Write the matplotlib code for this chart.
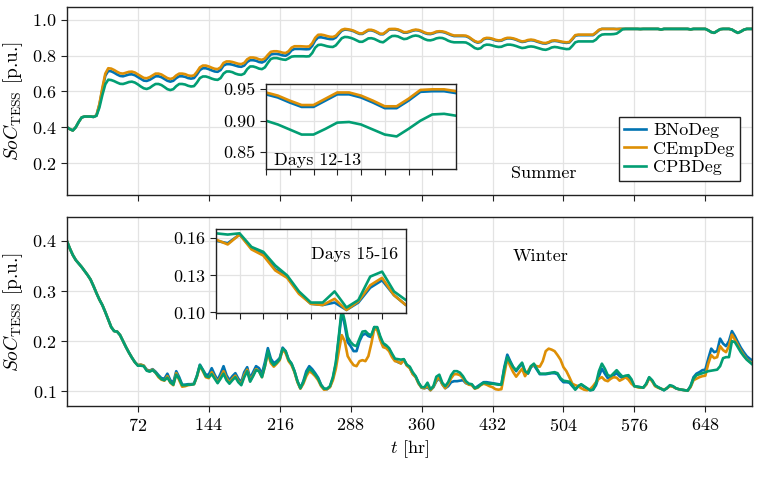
import numpy as np
import matplotlib
matplotlib.use("Agg")
import matplotlib.pyplot as plt

plt.rcParams['font.family'] = 'serif'
plt.rcParams['font.serif'] = ['cmr10']
plt.rcParams['mathtext.fontset'] = 'cm'
plt.rcParams['axes.formatter.use_mathtext'] = True
plt.rcParams['font.size'] = 13

# time axis, every 3 hours
hours = np.arange(0, 697, 3)

# summer SoC [p.u.], one row per day
summer_bnodeg = [
    0.400, 0.390, 0.382, 0.400, 0.430, 0.455, 0.460, 0.460,
    0.460, 0.458, 0.466, 0.525, 0.610, 0.688, 0.715, 0.713,
    0.705, 0.695, 0.687, 0.685, 0.690, 0.695, 0.696, 0.691,
    0.681, 0.671, 0.661, 0.659, 0.665, 0.675, 0.685, 0.685,
    0.680, 0.670, 0.660, 0.655, 0.660, 0.675, 0.685, 0.685,
    0.682, 0.675, 0.672, 0.675, 0.695, 0.720, 0.730, 0.730,
    0.725, 0.718, 0.712, 0.710, 0.720, 0.745, 0.753, 0.753,
    0.750, 0.745, 0.740, 0.738, 0.745, 0.765, 0.775, 0.775,
    0.772, 0.765, 0.762, 0.770, 0.790, 0.807, 0.810, 0.810,
    0.807, 0.802, 0.800, 0.810, 0.830, 0.838, 0.838, 0.838,
    0.837, 0.836, 0.837, 0.855, 0.885, 0.902, 0.903, 0.900,
    0.896, 0.893, 0.893, 0.902, 0.922, 0.940, 0.946, 0.945,
    0.942, 0.937, 0.929, 0.922, 0.922, 0.932, 0.942, 0.942,
    0.937, 0.929, 0.920, 0.920, 0.932, 0.946, 0.947, 0.947,
    0.944, 0.937, 0.929, 0.929, 0.934, 0.940, 0.943, 0.941,
    0.935, 0.927, 0.922, 0.921, 0.925, 0.932, 0.934, 0.933,
    0.929, 0.922, 0.915, 0.910, 0.910, 0.910, 0.910, 0.909,
    0.902, 0.890, 0.879, 0.873, 0.877, 0.892, 0.897, 0.896,
    0.892, 0.886, 0.883, 0.884, 0.892, 0.897, 0.897, 0.894,
    0.889, 0.882, 0.877, 0.879, 0.885, 0.887, 0.885, 0.879,
    0.874, 0.869, 0.868, 0.873, 0.881, 0.883, 0.881, 0.877,
    0.874, 0.872, 0.874, 0.892, 0.912, 0.915, 0.915, 0.915,
    0.915, 0.915, 0.915, 0.927, 0.942, 0.950, 0.950, 0.950,
    0.950, 0.950, 0.949, 0.950, 0.950, 0.950, 0.950, 0.950,
    0.950, 0.950, 0.949, 0.950, 0.950, 0.950, 0.950, 0.950,
    0.950, 0.946, 0.950, 0.950, 0.950, 0.950, 0.950, 0.950,
    0.950, 0.950, 0.950, 0.947, 0.950, 0.950, 0.950, 0.950,
    0.950, 0.942, 0.932, 0.928, 0.938, 0.948, 0.950, 0.950,
    0.950, 0.946, 0.936, 0.928, 0.935, 0.945, 0.950, 0.950,
    0.950]
summer_cempdeg = [
    0.400, 0.390, 0.382, 0.400, 0.430, 0.455, 0.460, 0.460,
    0.460, 0.458, 0.466, 0.530, 0.620, 0.700, 0.730, 0.728,
    0.720, 0.710, 0.702, 0.700, 0.705, 0.710, 0.711, 0.706,
    0.696, 0.686, 0.676, 0.674, 0.680, 0.690, 0.700, 0.700,
    0.695, 0.685, 0.675, 0.670, 0.675, 0.690, 0.700, 0.700,
    0.697, 0.690, 0.687, 0.690, 0.710, 0.735, 0.745, 0.745,
    0.740, 0.733, 0.727, 0.725, 0.735, 0.760, 0.768, 0.768,
    0.765, 0.760, 0.755, 0.753, 0.760, 0.780, 0.790, 0.790,
    0.787, 0.780, 0.777, 0.785, 0.805, 0.822, 0.825, 0.825,
    0.822, 0.817, 0.815, 0.825, 0.845, 0.853, 0.853, 0.853,
    0.852, 0.851, 0.852, 0.870, 0.900, 0.917, 0.918, 0.915,
    0.910, 0.906, 0.905, 0.912, 0.930, 0.945, 0.950, 0.948,
    0.945, 0.940, 0.932, 0.925, 0.925, 0.935, 0.945, 0.945,
    0.940, 0.932, 0.923, 0.923, 0.935, 0.949, 0.950, 0.950,
    0.947, 0.940, 0.932, 0.932, 0.937, 0.943, 0.946, 0.944,
    0.938, 0.930, 0.925, 0.924, 0.928, 0.935, 0.937, 0.936,
    0.932, 0.925, 0.918, 0.913, 0.913, 0.913, 0.913, 0.912,
    0.905, 0.893, 0.882, 0.876, 0.880, 0.895, 0.900, 0.899,
    0.895, 0.889, 0.886, 0.887, 0.895, 0.900, 0.900, 0.897,
    0.892, 0.885, 0.880, 0.882, 0.888, 0.890, 0.888, 0.882,
    0.877, 0.872, 0.871, 0.876, 0.884, 0.886, 0.884, 0.880,
    0.877, 0.875, 0.877, 0.895, 0.915, 0.918, 0.918, 0.918,
    0.918, 0.918, 0.918, 0.930, 0.945, 0.950, 0.950, 0.950,
    0.950, 0.950, 0.949, 0.950, 0.950, 0.950, 0.950, 0.950,
    0.950, 0.950, 0.949, 0.950, 0.950, 0.950, 0.950, 0.950,
    0.950, 0.946, 0.950, 0.950, 0.950, 0.950, 0.950, 0.950,
    0.950, 0.950, 0.950, 0.947, 0.950, 0.950, 0.950, 0.950,
    0.950, 0.942, 0.932, 0.928, 0.938, 0.948, 0.950, 0.950,
    0.950, 0.946, 0.936, 0.928, 0.935, 0.945, 0.950, 0.950,
    0.950]
summer_cpbdeg = [
    0.400, 0.390, 0.382, 0.400, 0.430, 0.455, 0.460, 0.460,
    0.460, 0.458, 0.464, 0.510, 0.580, 0.640, 0.666, 0.664,
    0.658, 0.650, 0.643, 0.642, 0.647, 0.653, 0.655, 0.650,
    0.640, 0.628, 0.618, 0.614, 0.620, 0.632, 0.642, 0.642,
    0.636, 0.625, 0.613, 0.608, 0.613, 0.630, 0.642, 0.642,
    0.639, 0.632, 0.628, 0.630, 0.650, 0.675, 0.684, 0.684,
    0.679, 0.672, 0.667, 0.665, 0.675, 0.700, 0.712, 0.712,
    0.708, 0.700, 0.695, 0.693, 0.700, 0.725, 0.740, 0.740,
    0.735, 0.728, 0.725, 0.735, 0.760, 0.782, 0.787, 0.787,
    0.783, 0.779, 0.777, 0.785, 0.795, 0.797, 0.797, 0.797,
    0.797, 0.796, 0.797, 0.815, 0.845, 0.860, 0.862, 0.858,
    0.853, 0.850, 0.849, 0.858, 0.878, 0.898, 0.905, 0.904,
    0.900, 0.894, 0.886, 0.878, 0.878, 0.887, 0.897, 0.898,
    0.894, 0.886, 0.878, 0.875, 0.887, 0.900, 0.910, 0.911,
    0.908, 0.900, 0.893, 0.895, 0.903, 0.910, 0.913, 0.910,
    0.902, 0.893, 0.887, 0.886, 0.890, 0.897, 0.900, 0.899,
    0.893, 0.884, 0.878, 0.875, 0.875, 0.875, 0.875, 0.874,
    0.866, 0.855, 0.843, 0.838, 0.842, 0.857, 0.862, 0.861,
    0.857, 0.852, 0.849, 0.850, 0.857, 0.862, 0.862, 0.859,
    0.854, 0.848, 0.843, 0.845, 0.850, 0.852, 0.850, 0.845,
    0.840, 0.835, 0.833, 0.838, 0.846, 0.849, 0.847, 0.843,
    0.840, 0.837, 0.838, 0.855, 0.875, 0.880, 0.880, 0.880,
    0.880, 0.880, 0.880, 0.890, 0.908, 0.918, 0.920, 0.920,
    0.920, 0.921, 0.924, 0.935, 0.948, 0.950, 0.950, 0.950,
    0.950, 0.950, 0.949, 0.950, 0.950, 0.950, 0.950, 0.950,
    0.950, 0.946, 0.950, 0.950, 0.950, 0.950, 0.950, 0.950,
    0.950, 0.950, 0.950, 0.947, 0.950, 0.950, 0.950, 0.950,
    0.950, 0.942, 0.932, 0.928, 0.938, 0.948, 0.950, 0.950,
    0.950, 0.946, 0.936, 0.928, 0.935, 0.945, 0.950, 0.950,
    0.950]

# winter SoC [p.u.]
winter_bnodeg = [
    0.400, 0.385, 0.372, 0.362, 0.355, 0.348, 0.340, 0.332,
    0.323, 0.310, 0.296, 0.283, 0.272, 0.258, 0.243, 0.228,
    0.220, 0.219, 0.212, 0.200, 0.188, 0.177, 0.167, 0.158,
    0.152, 0.153, 0.151, 0.143, 0.141, 0.144, 0.139, 0.132,
    0.126, 0.125, 0.135, 0.122, 0.117, 0.140, 0.128, 0.113,
    0.113, 0.114, 0.114, 0.115, 0.131, 0.153, 0.143, 0.133,
    0.133, 0.146, 0.133, 0.122, 0.135, 0.150, 0.132, 0.122,
    0.130, 0.136, 0.125, 0.118, 0.138, 0.148, 0.126, 0.138,
    0.150, 0.146, 0.135, 0.158, 0.186, 0.165, 0.156, 0.160,
    0.166, 0.187, 0.180, 0.163, 0.155, 0.140, 0.120, 0.106,
    0.120, 0.140, 0.150, 0.144, 0.136, 0.127, 0.113, 0.105,
    0.104, 0.109, 0.126, 0.155, 0.205, 0.258, 0.232, 0.198,
    0.190, 0.180, 0.180, 0.200, 0.212, 0.215, 0.210, 0.208,
    0.228, 0.226, 0.207, 0.193, 0.190, 0.184, 0.173, 0.162,
    0.158, 0.156, 0.163, 0.152, 0.147, 0.135, 0.129, 0.116,
    0.107, 0.106, 0.108, 0.102, 0.108, 0.120, 0.126, 0.114,
    0.106, 0.110, 0.118, 0.120, 0.120, 0.121, 0.122, 0.116,
    0.114, 0.113, 0.106, 0.110, 0.114, 0.118, 0.118, 0.117,
    0.116, 0.115, 0.114, 0.113, 0.148, 0.173, 0.160, 0.148,
    0.140, 0.148, 0.155, 0.138, 0.135, 0.148, 0.152, 0.143,
    0.134, 0.134, 0.134, 0.135, 0.136, 0.136, 0.134, 0.124,
    0.118, 0.118, 0.117, 0.110, 0.104, 0.110, 0.113, 0.109,
    0.105, 0.102, 0.103, 0.112, 0.130, 0.145, 0.135, 0.126,
    0.126, 0.132, 0.136, 0.130, 0.126, 0.129, 0.128, 0.120,
    0.110, 0.109, 0.108, 0.107, 0.114, 0.127, 0.121, 0.111,
    0.108, 0.105, 0.102, 0.106, 0.111, 0.110, 0.106, 0.104,
    0.103, 0.102, 0.101, 0.110, 0.128, 0.135, 0.138, 0.142,
    0.143, 0.165, 0.185, 0.178, 0.180, 0.205, 0.195, 0.190,
    0.200, 0.220, 0.210, 0.198, 0.187, 0.178, 0.170, 0.165,
    0.161]
winter_cempdeg = [
    0.400, 0.385, 0.372, 0.362, 0.355, 0.348, 0.340, 0.332,
    0.323, 0.310, 0.296, 0.283, 0.272, 0.258, 0.243, 0.228,
    0.220, 0.219, 0.212, 0.200, 0.188, 0.177, 0.167, 0.158,
    0.152, 0.153, 0.151, 0.142, 0.140, 0.143, 0.137, 0.128,
    0.123, 0.121, 0.130, 0.117, 0.112, 0.136, 0.122, 0.109,
    0.110, 0.112, 0.113, 0.114, 0.129, 0.150, 0.140, 0.128,
    0.126, 0.138, 0.128, 0.118, 0.128, 0.140, 0.126, 0.117,
    0.125, 0.131, 0.120, 0.114, 0.132, 0.143, 0.121, 0.132,
    0.144, 0.140, 0.128, 0.150, 0.176, 0.156, 0.149, 0.155,
    0.162, 0.183, 0.176, 0.160, 0.152, 0.138, 0.118, 0.105,
    0.115, 0.130, 0.140, 0.136, 0.130, 0.122, 0.110, 0.103,
    0.104, 0.108, 0.122, 0.145, 0.180, 0.212, 0.200, 0.170,
    0.160, 0.152, 0.150, 0.160, 0.162, 0.160, 0.170, 0.195,
    0.225, 0.222, 0.202, 0.188, 0.186, 0.180, 0.168, 0.160,
    0.159, 0.155, 0.163, 0.151, 0.146, 0.134, 0.128, 0.115,
    0.107, 0.106, 0.111, 0.102, 0.109, 0.122, 0.128, 0.114,
    0.106, 0.114, 0.126, 0.134, 0.134, 0.132, 0.126, 0.117,
    0.113, 0.112, 0.105, 0.107, 0.112, 0.115, 0.113, 0.110,
    0.108, 0.104, 0.103, 0.104, 0.135, 0.165, 0.150, 0.138,
    0.129, 0.137, 0.145, 0.130, 0.140, 0.150, 0.152, 0.150,
    0.149, 0.160, 0.180, 0.185, 0.183, 0.180, 0.172, 0.163,
    0.148, 0.140, 0.128, 0.115, 0.112, 0.110, 0.106, 0.103,
    0.102, 0.104, 0.110, 0.118, 0.125, 0.128, 0.122, 0.120,
    0.125, 0.128, 0.127, 0.121, 0.124, 0.128, 0.123, 0.115,
    0.110, 0.108, 0.107, 0.107, 0.113, 0.126, 0.120, 0.110,
    0.107, 0.105, 0.103, 0.106, 0.110, 0.109, 0.106, 0.104,
    0.103, 0.102, 0.101, 0.108, 0.122, 0.125, 0.128, 0.130,
    0.131, 0.155, 0.172, 0.166, 0.168, 0.190, 0.182, 0.178,
    0.190, 0.213, 0.203, 0.192, 0.181, 0.172, 0.164, 0.159,
    0.155]
winter_cpbdeg = [
    0.400, 0.385, 0.372, 0.362, 0.355, 0.348, 0.340, 0.332,
    0.323, 0.310, 0.296, 0.283, 0.272, 0.258, 0.243, 0.228,
    0.220, 0.219, 0.212, 0.200, 0.188, 0.177, 0.167, 0.158,
    0.151, 0.151, 0.150, 0.141, 0.139, 0.142, 0.137, 0.130,
    0.124, 0.122, 0.127, 0.118, 0.113, 0.133, 0.125, 0.112,
    0.112, 0.113, 0.113, 0.114, 0.130, 0.152, 0.142, 0.130,
    0.128, 0.134, 0.125, 0.116, 0.125, 0.135, 0.122, 0.115,
    0.122, 0.128, 0.118, 0.112, 0.128, 0.140, 0.119, 0.130,
    0.142, 0.140, 0.128, 0.150, 0.181, 0.160, 0.152, 0.157,
    0.164, 0.185, 0.180, 0.163, 0.155, 0.140, 0.120, 0.106,
    0.118, 0.135, 0.145, 0.140, 0.133, 0.125, 0.112, 0.105,
    0.105, 0.110, 0.128, 0.158, 0.210, 0.265, 0.240, 0.208,
    0.198, 0.192, 0.190, 0.205, 0.219, 0.220, 0.214, 0.212,
    0.228, 0.228, 0.210, 0.196, 0.192, 0.186, 0.175, 0.165,
    0.164, 0.163, 0.164, 0.153, 0.149, 0.138, 0.130, 0.117,
    0.108, 0.108, 0.117, 0.104, 0.110, 0.129, 0.133, 0.117,
    0.110, 0.118, 0.132, 0.140, 0.140, 0.137, 0.130, 0.120,
    0.115, 0.114, 0.106, 0.108, 0.113, 0.117, 0.116, 0.115,
    0.115, 0.114, 0.113, 0.113, 0.145, 0.168, 0.158, 0.148,
    0.142, 0.150, 0.157, 0.140, 0.136, 0.150, 0.155, 0.145,
    0.135, 0.135, 0.135, 0.136, 0.137, 0.138, 0.136, 0.126,
    0.121, 0.120, 0.119, 0.112, 0.103, 0.110, 0.114, 0.110,
    0.106, 0.102, 0.103, 0.115, 0.140, 0.155, 0.145, 0.132,
    0.130, 0.136, 0.142, 0.135, 0.129, 0.131, 0.132, 0.124,
    0.110, 0.109, 0.108, 0.107, 0.115, 0.128, 0.122, 0.112,
    0.108, 0.105, 0.102, 0.106, 0.112, 0.110, 0.106, 0.104,
    0.103, 0.102, 0.101, 0.110, 0.125, 0.132, 0.134, 0.136,
    0.138, 0.140, 0.141, 0.142, 0.143, 0.150, 0.166, 0.168,
    0.168, 0.200, 0.198, 0.188, 0.178, 0.170, 0.163, 0.158,
    0.153]

names = ['BNoDeg', 'CEmpDeg', 'CPBDeg']
colors = ['#0173B2', '#DE8F05', '#029E73']
summer = [summer_bnodeg, summer_cempdeg, summer_cpbdeg]
winter = [winter_bnodeg, winter_cempdeg, winter_cpbdeg]
xticks = [72, 144, 216, 288, 360, 432, 504, 576, 648]
ylab = r'$SoC_{\mathrm{TESS}}$ [p.u.]'


def style(ax):
    ax.grid(True, color='#e3e3e3', linewidth=0.9)
    ax.set_axisbelow(True)
    for s in ax.spines.values():
        s.set_color('#222222')
        s.set_linewidth(1.0)
    ax.tick_params(direction='out', length=4, width=0.8, color='#222222')


fig = plt.figure(figsize=(7.6, 4.93), dpi=100)
ax1 = fig.add_axes([0.088, 0.604, 0.901, 0.382])
ax2 = fig.add_axes([0.088, 0.176, 0.901, 0.384], sharex=ax1)

for ax, data in [(ax1, summer), (ax2, winter)]:
    style(ax)
    for vals, c, n in zip(data, colors, names):
        ax.plot(hours, vals, color=c, lw=1.9, label=n)
    ax.set_ylabel(ylab, fontsize=14, labelpad=5)

ax1.set_xlim(0, 695)
ax1.set_xticks(xticks)
ax1.tick_params(labelbottom=False)
ax1.set_ylim(0.02, 1.073)
ax1.set_yticks([0.2, 0.4, 0.6, 0.8, 1.0])
ax2.set_ylim(0.07, 0.448)
ax2.set_yticks([0.1, 0.2, 0.3, 0.4])
ax2.set_xlabel(r'$t$ [hr]', labelpad=3)

ax1.text(0.697, 0.115, 'Summer', transform=ax1.transAxes, ha='center', va='center')
ax2.text(0.692, 0.79, 'Winter', transform=ax2.transAxes, ha='center', va='center')

leg = ax1.legend(loc='lower right', fancybox=False, framealpha=1, edgecolor='#222222',
                 handlelength=1.2, handletextpad=0.4, borderpad=0.3, labelspacing=0.15,
                 bbox_to_anchor=(0.996, 0.03))
leg.get_frame().set_linewidth(1.0)

# zoom insets
in1 = fig.add_axes([0.350, 0.657, 0.250, 0.172])
in2 = fig.add_axes([0.284, 0.365, 0.250, 0.170])
for ax, data in [(in1, summer), (in2, winter)]:
    style(ax)
    ax.set_facecolor('white')
    for vals, c in zip(data, colors):
        ax.plot(hours, vals, color=c, lw=1.9)
    ax.tick_params(labelbottom=False)

in1.set_xlim(288, 336)
in1.set_xticks(np.arange(288, 336, 6))
in1.set_ylim(0.823, 0.958)
in1.set_yticks([0.85, 0.90, 0.95])
in1.set_yticklabels(['0.85', '0.90', '0.95'])
in1.text(0.04, 0.1, 'Days 12-13', transform=in1.transAxes, ha='left', va='center')

in2.set_xlim(336, 384)
in2.set_xticks(np.arange(336, 384, 6))
in2.set_ylim(0.0995, 0.1673)
in2.set_yticks([0.10, 0.13, 0.16])
in2.set_yticklabels(['0.10', '0.13', '0.16'])
in2.text(0.96, 0.7, 'Days 15-16', transform=in2.transAxes, ha='right', va='center')

fig.savefig('out.png', dpi=100)
